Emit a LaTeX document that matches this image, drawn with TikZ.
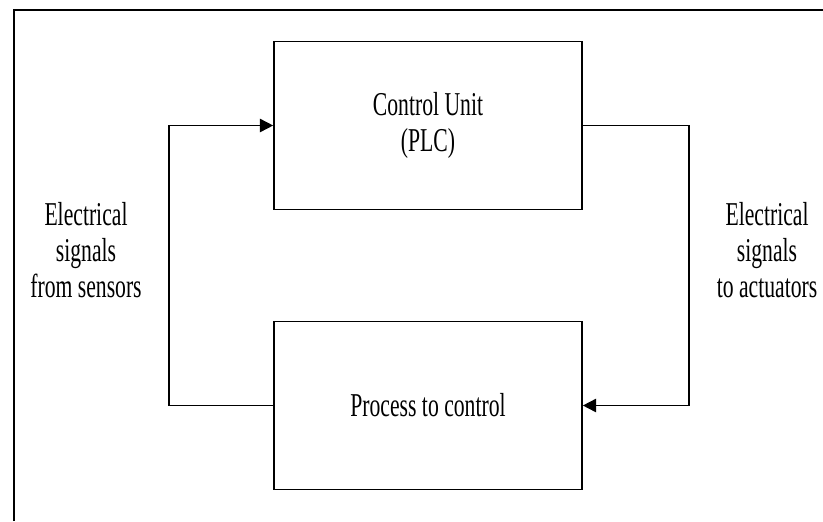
\documentclass[tikz,border=0pt]{standalone}
\usepackage{fontspec}
\setmainfont[FakeStretch=0.65]{Liberation Serif}
\usetikzlibrary{arrows.meta}
\begin{document}
\begin{tikzpicture}[x=0.75pt,y=-0.75pt,>={Triangle[length=10pt,width=10pt]},
    line join=miter,
    block/.style={draw,line width=1.2pt,minimum width=231pt,minimum height=126pt,align=center,inner sep=0pt},
    txt/.style={align=center,font=\fontsize{25}{27}\selectfont},
    flow/.style={->,line width=1.2pt}]
    \useasboundingbox (0,0) rectangle (823,521);
    \draw[line width=2pt] (14,521)--(14,10)--(823,10);
    \node[block,txt] (cu) at (428,125.5) {Control Unit\\(PLC)};
    \node[block,txt] (proc) at (428,405.5) {Process to control};
    \node[txt] (sensors) at (86,250) {Electrical\\signals\\from sensors};
    \node[txt] (actuators) at (767,250) {Electrical\\signals\\to actuators};
    \draw[flow] (proc.west) -- ++(-104,0) |- (cu.west);
    \draw[flow] (cu.east) -- ++(106,0) |- (proc.east);
\end{tikzpicture}
\end{document}
